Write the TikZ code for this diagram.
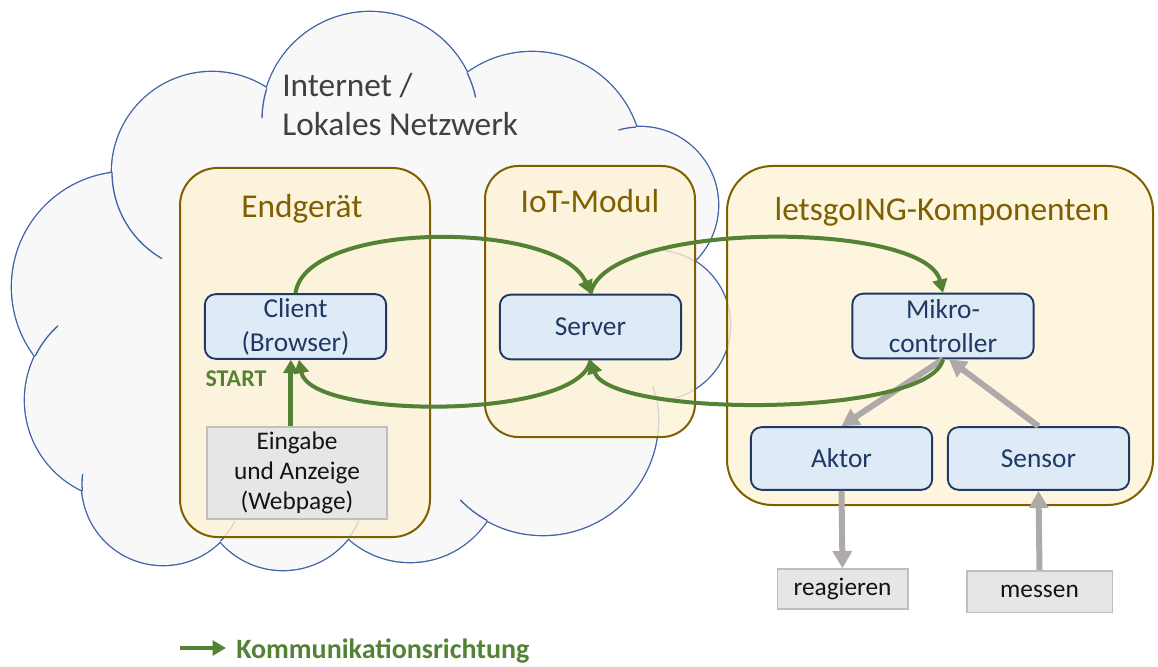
\documentclass[tikz,border=0pt]{standalone}
\usepackage{fontspec}
\setmainfont{Carlito}
\usepackage{tikz}
\usetikzlibrary{arrows.meta}

\tikzset{
    cloudedge/.style={draw={rgb, 255:red, 64; green, 100; blue, 165 }},
    cloudfill/.style={fill={rgb, 255:red, 248; green, 248; blue, 249 }},
    groupbox/.style={draw={rgb, 255:red, 127; green, 96; blue, 0 }, line width=1.5pt, fill={rgb, 255:red, 254; green, 242; blue, 215 }, fill opacity=0.8},
    grouptitle/.style={text={rgb, 255:red, 127; green, 96; blue, 0 }, font=\fontsize{25}{30}\selectfont, anchor=base},
    nettext/.style={text={rgb, 255:red, 64; green, 64; blue, 64 }, font=\fontsize{25}{30}\selectfont, anchor=base west, inner sep=0pt},
    partbox/.style={draw={rgb, 255:red, 31; green, 56; blue, 100 }, line width=1.4pt, fill={rgb, 255:red, 222; green, 235; blue, 247 }, rounded corners=8pt, minimum width=136pt, minimum height=48.5pt, inner sep=0pt, align=center, text={rgb, 255:red, 31; green, 56; blue, 100 }, font=\fontsize{20.5}{25.5}\selectfont},
    greybox/.style={draw={rgb, 255:red, 191; green, 191; blue, 191 }, line width=1pt, fill={rgb, 255:red, 230; green, 230; blue, 230 }, inner sep=0pt, align=center, text={rgb, 255:red, 20; green, 20; blue, 20 }, font=\fontsize{19}{22.5}\selectfont},
    flow/.style={draw={rgb, 255:red, 84; green, 130; blue, 53 }, line width=3pt, -{Triangle[length=10pt,width=11pt]}},
    signal/.style={draw={rgb, 255:red, 174; green, 170; blue, 170 }, line width=4.5pt, -{Triangle[length=13pt,width=14pt]}},
    greenlabel/.style={text={rgb, 255:red, 84; green, 130; blue, 53 }, font=\bfseries\fontsize{18}{21}\selectfont}
}

\begin{document}
\begin{tikzpicture}[x=0.75pt,y=0.75pt,yscale=-1,xscale=1]
    %set diagram to 1158 x 667
    \useasboundingbox (0,0) rectangle (1158,667);

    %Cloud: outline of all lobes
    \draw [cloudedge, line width=2pt] (370,120) circle [radius=108] (532,162) circle [radius=110] (640,205) circle [radius=78] (655,325) circle [radius=75] (543,420) circle [radius=115] (410,470) circle [radius=92] (283,487) circle [radius=83] (163,484) circle [radius=81] (125,400) circle [radius=100] (127,287) circle [radius=115] (212,172) circle [radius=100] ;
    %Cloud: fill over the inner halves
    \fill [cloudfill] (370,120) circle [radius=108] (532,162) circle [radius=110] (640,205) circle [radius=78] (655,325) circle [radius=75] (543,420) circle [radius=115] (410,470) circle [radius=92] (283,487) circle [radius=83] (163,484) circle [radius=81] (125,400) circle [radius=100] (127,287) circle [radius=115] (212,172) circle [radius=100] ;
    \fill [cloudfill] (370,120) -- (532,162) -- (640,205) -- (655,325) -- (543,420) -- (410,470) -- (283,487) -- (163,484) -- (125,400) -- (127,287) -- (212,172) -- cycle ;
    %Cloud: inner arcs
    \draw [cloudedge, line width=1pt] (370,120) ++(197:108) arc [start angle=197, end angle=181, radius=108] ;
    \draw [cloudedge, line width=1pt] (370,120) ++(-26:108) arc [start angle=-26, end angle=-12, radius=108] ;
    \draw [cloudedge, line width=1pt] (212,172) ++(180:100) arc [start angle=180, end angle=120, radius=100] ;
    \draw [cloudedge, line width=1pt] (125,400) ++(206:100) arc [start angle=206, end angle=228, radius=100] ;
    \draw [cloudedge, line width=1pt] (163,484) ++(175:81) arc [start angle=175, end angle=187, radius=81] ;
    \draw [cloudedge, line width=1pt] (163,484) ++(45:81) arc [start angle=45, end angle=27, radius=81] ;
    \draw [cloudedge, line width=1pt] (283,487) ++(38:83) arc [start angle=38, end angle=24, radius=83] ;
    \draw [cloudedge, line width=1pt] (543,420) ++(119:115) arc [start angle=119, end angle=136, radius=115] ;
    \draw [cloudedge, line width=1pt] (543,420) ++(-10:115) arc [start angle=-10, end angle=-17, radius=115] ;
    \draw [cloudedge, line width=1pt] (655,325) ++(-58:75) arc [start angle=-58, end angle=-92, radius=75] ;
    \draw [cloudedge, line width=1pt] (640,205) ++(-93:78) arc [start angle=-93, end angle=-106, radius=78] ;

    % Text Node
    \node [nettext] (net1) at (282,97) {Internet /};
    % Text Node
    \node [nettext] (net2) at (282,136) {Lokales Netzwerk};

    %Rounded Rect: Endgeraet
    \draw [groupbox, rounded corners=28pt] (180,168) rectangle (430,537) ;
    %Rounded Rect: IoT-Modul
    \draw [groupbox, rounded corners=25pt] (485,166) rectangle (695,437) ;
    %Rounded Rect: Komponenten
    \draw [groupbox, rounded corners=34pt] (727,166) rectangle (1153,505) ;

    % Text Node
    \node [grouptitle] (endtitle) at (302,217) {Endgerät};
    % Text Node
    \node [grouptitle] (iottitle) at (590,213) {IoT-Modul};
    % Text Node
    \node [grouptitle] (comptitle) at (942,220) {letsgoING-Komponenten};

    %Rounded Rect [blue]
    \node [partbox] (client) at (295.5,326.5) {Client\\(Browser)};
    \node [partbox] (server) at (590.5,327) {Server};
    \node [partbox] (mikro) at (943,326) {Mikro-\\controller};
    \node [partbox, minimum height=47pt] (aktor) at (841.5,458.5) {Aktor};
    \node [partbox, minimum height=47pt] (sensor) at (1038.5,458.5) {Sensor};

    %Shape: Rectangle [grey]
    \node [greybox, minimum width=135pt, minimum height=69pt] (eingabe) at (297,473) {Eingabe\\und Anzeige\\(Webpage)};
    \node [greybox, minimum width=98pt, minimum height=30pt] (reag) at (842.5,589) {reagieren};
    \node [greybox, minimum width=109pt, minimum height=31pt] (messen) at (1039.5,591.5) {messen};

    %Straight Lines [grey]
    \draw [signal] (mikro.south) -- (aktor.north) ;
    \draw [signal] (sensor.north) -- (mikro.-80) ;
    \draw [signal] (aktor.south) -- (reag.north) ;
    \draw [signal] (messen.north) -- (sensor.south) ;

    %Curve Lines [green]
    \draw [flow] (client.north) .. controls (305,220) and (560,220) .. (server.north) ;
    \draw [flow] (server.north) .. controls (605,220) and (925,220) .. (mikro.north) ;
    \draw [flow] (mikro.south) .. controls (930,418) and (610,418) .. (server.south) ;
    \draw [flow] (server.south) .. controls (580,420) and (310,420) .. (client.-84) ;
    %Straight Lines [start]
    \draw [flow, line width=3.75pt] (eingabe.north -| client.-98) -- (client.-98) ;

    % Text Node
    \node [greenlabel] (start) at (236,379) {START};

    %Legend
    \coordinate (legA) at (180,648);
    \node [greenlabel, font=\bfseries\fontsize{21}{25}\selectfont, anchor=base west, inner xsep=7.5pt] (legend) at (226,658) {Kommunikationsrichtung};
    \draw [flow] (legA) -- (legA -| legend.west) ;

\end{tikzpicture}
\end{document}
